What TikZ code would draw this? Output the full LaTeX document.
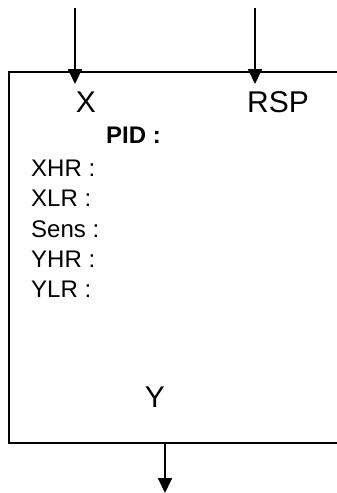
\documentclass[tikz,border=0pt]{standalone}
\usepackage{fontspec}
\setmainfont{Liberation Sans}
\usetikzlibrary{arrows.meta}
\begin{document}
\begin{tikzpicture}[x=1pt,y=-1pt,
  frame/.style={line width=1.4pt},
  sig/.style={line width=1.8pt,-{Triangle[length=15pt,width=14pt]}},
  big/.style={inner sep=0pt,font=\fontsize{30}{36}\selectfont},
  lbl/.style={inner sep=0pt,anchor=base west,font=\fontsize{24}{29}\selectfont}]
\useasboundingbox (0,0) rectangle (337,493);
% box (open on the right, cut by the page edge)
\coordinate (tr) at (340,72);
\coordinate (tl) at (9,72);
\coordinate (bl) at (9,443);
\coordinate (br) at (340,443);
\draw[frame] (tr) -- (tl) -- (bl) -- (br);
% inputs
\coordinate (xs) at (75,8);
\coordinate (xt) at (75,84);
\coordinate (rs) at (255,8);
\coordinate (rt) at (255,84);
\draw[sig] (xs) -- (xt);
\draw[sig] (rs) -- (rt);
% output
\coordinate (ys) at (165,443);
\coordinate (yt) at (165,493);
\draw[sig] (ys) -- (yt);
% texts
\node[big,anchor=base] (X) at (86,112) {X};
\node[big,anchor=base west] (RSP) at (247,112) {RSP};
\node[lbl,font=\fontsize{24}{29}\selectfont\bfseries] (PID) at (106,143) {PID :};
\node[lbl] (XHR) at (31,176) {XHR :};
\node[lbl] (XLR) at (31,206) {XLR :};
\node[lbl] (Sens) at (31,237) {Sens :};
\node[lbl] (YHR) at (31,267) {YHR :};
\node[lbl] (YLR) at (31,297) {YLR :};
\node[big,anchor=base] (Y) at (155,407) {Y};
\end{tikzpicture}
\end{document}
